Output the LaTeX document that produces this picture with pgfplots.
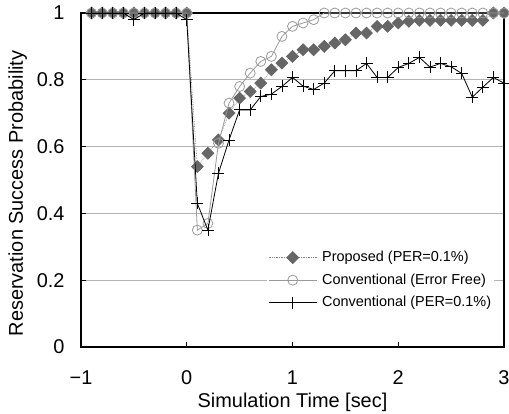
\documentclass[border=0pt]{standalone}
\usepackage{fontspec}
\setmainfont{Liberation Sans}
\usepackage{pgfplots}
\pgfplotsset{compat=1.18}

\definecolor{propgray}{HTML}{666666}
\definecolor{freegray}{HTML}{9A9A9A}
\definecolor{gridgray}{HTML}{B4B4B4}

\pgfplotstableread{
t v
-0.9 1
-0.8 1
-0.7 1
-0.6 1
-0.5 1
-0.4 1
-0.3 1
-0.2 1
-0.1 1
0.0 1
0.1 0.54
0.2 0.58
0.3 0.62
0.4 0.70
0.5 0.745
0.6 0.765
0.7 0.79
0.8 0.83
0.9 0.85
1.0 0.87
1.1 0.89
1.2 0.89
1.3 0.90
1.4 0.91
1.5 0.92
1.6 0.94
1.7 0.94
1.8 0.96
1.9 0.96
2.0 0.97
2.1 0.975
2.2 0.978
2.3 0.978
2.4 0.978
2.5 0.978
2.6 0.978
2.7 0.978
2.8 0.978
2.9 1
3.0 1
}\proposed

\pgfplotstableread{
t v
-0.9 1
-0.8 1
-0.7 1
-0.6 1
-0.5 1
-0.4 1
-0.3 1
-0.2 1
-0.1 1
0.0 1
0.1 0.35
0.2 0.37
0.3 0.61
0.4 0.73
0.5 0.78
0.6 0.82
0.7 0.855
0.8 0.87
0.9 0.93
1.0 0.96
1.1 0.97
1.2 0.98
1.3 1
1.4 1
1.5 1
1.6 1
1.7 1
1.8 1
1.9 1
2.0 1
2.1 1
2.2 1
2.3 1
2.4 1
2.5 1
2.6 1
2.7 1
2.8 1
2.9 1
3.0 1
}\convfree

\pgfplotstableread{
t v
-0.9 1
-0.8 1
-0.7 1
-0.6 1
-0.5 0.98
-0.4 1
-0.3 1
-0.2 1
-0.1 1
0.0 0.98
0.1 0.43
0.2 0.35
0.3 0.52
0.4 0.62
0.5 0.71
0.6 0.71
0.7 0.75
0.8 0.757
0.9 0.78
1.0 0.807
1.1 0.781
1.2 0.771
1.3 0.79
1.4 0.827
1.5 0.827
1.6 0.827
1.7 0.849
1.8 0.807
1.9 0.807
2.0 0.837
2.1 0.849
2.2 0.867
2.3 0.838
2.4 0.849
2.5 0.839
2.6 0.819
2.7 0.748
2.8 0.778
2.9 0.807
3.0 0.79
}\convper

\begin{document}
\begin{tikzpicture}
\begin{axis}[
  name=ax,
  scale only axis,
  width=423bp, height=334bp,
  xmin=-1, xmax=3, ymin=0, ymax=1,
  xtick={-1,0,1,2,3},
  xticklabels={−1,0,1,2,3},
  ytick={0,0.2,0.4,0.6,0.8,1},
  yticklabels={0,0.2,0.4,0.6,0.8,1},
  tick pos=left,
  tick align=inside,
  major tick length=5bp,
  tick style={black, line width=0.6bp},
  ymajorgrids=true,
  grid style={gridgray, line width=0.9bp},
  axis line style={black, line width=1.3bp},
  ticklabel style={font=\fontsize{20}{24}\selectfont},
  xticklabel style={yshift=-20bp},
  yticklabel style={xshift=-13bp},
  label style={font=\fontsize{20}{24}\selectfont},
  xlabel={Simulation Time [sec]},
  ylabel={Reservation Success Probability},
  xlabel style={yshift=-2bp},
  ylabel style={at={(ticklabel cs:0.46)}, yshift=3bp},
  clip mode=individual,
  legend cell align=left,
  legend style={at={(0.44,0.305)}, anchor=north west, draw=none, fill=white,
    font=\fontsize{14.5}{16}\selectfont, inner sep=1bp,
    nodes={inner xsep=2bp, inner ysep=4.8bp, text depth=0.25em},
    /tikz/every odd column/.append style={column sep=3bp}},
  legend image code/.code={%
    \draw[mark repeat=2, mark phase=2, #1] plot coordinates {(0bp,0bp) (24bp,0bp) (48bp,0bp)};},
]
\addplot[propgray!80, densely dotted, line width=0.7bp,
  mark=square*, mark size=4.2bp,
  mark options={solid, rotate=45, fill=propgray, draw=propgray}]
  table[x=t, y=v] {\proposed};
\addlegendentry{Proposed (PER=0.1\%)}
\addplot[freegray, line width=0.8bp,
  mark=o, mark size=5bp, mark options={solid, freegray, line width=0.8bp}]
  table[x=t, y=v] {\convfree};
\addlegendentry{Conventional (Error Free)}
\addplot[black, line width=0.8bp,
  mark=+, mark size=6bp, mark options={solid, black, line width=0.8bp}]
  table[x=t, y=v] {\convper};
\addlegendentry{Conventional (PER=0.1\%)}
\end{axis}
\pgfresetboundingbox
\path ([shift={(-81bp,-67bp)}]ax.south west) rectangle ([shift={(5bp,13bp)}]ax.north east);
\end{tikzpicture}
\end{document}
